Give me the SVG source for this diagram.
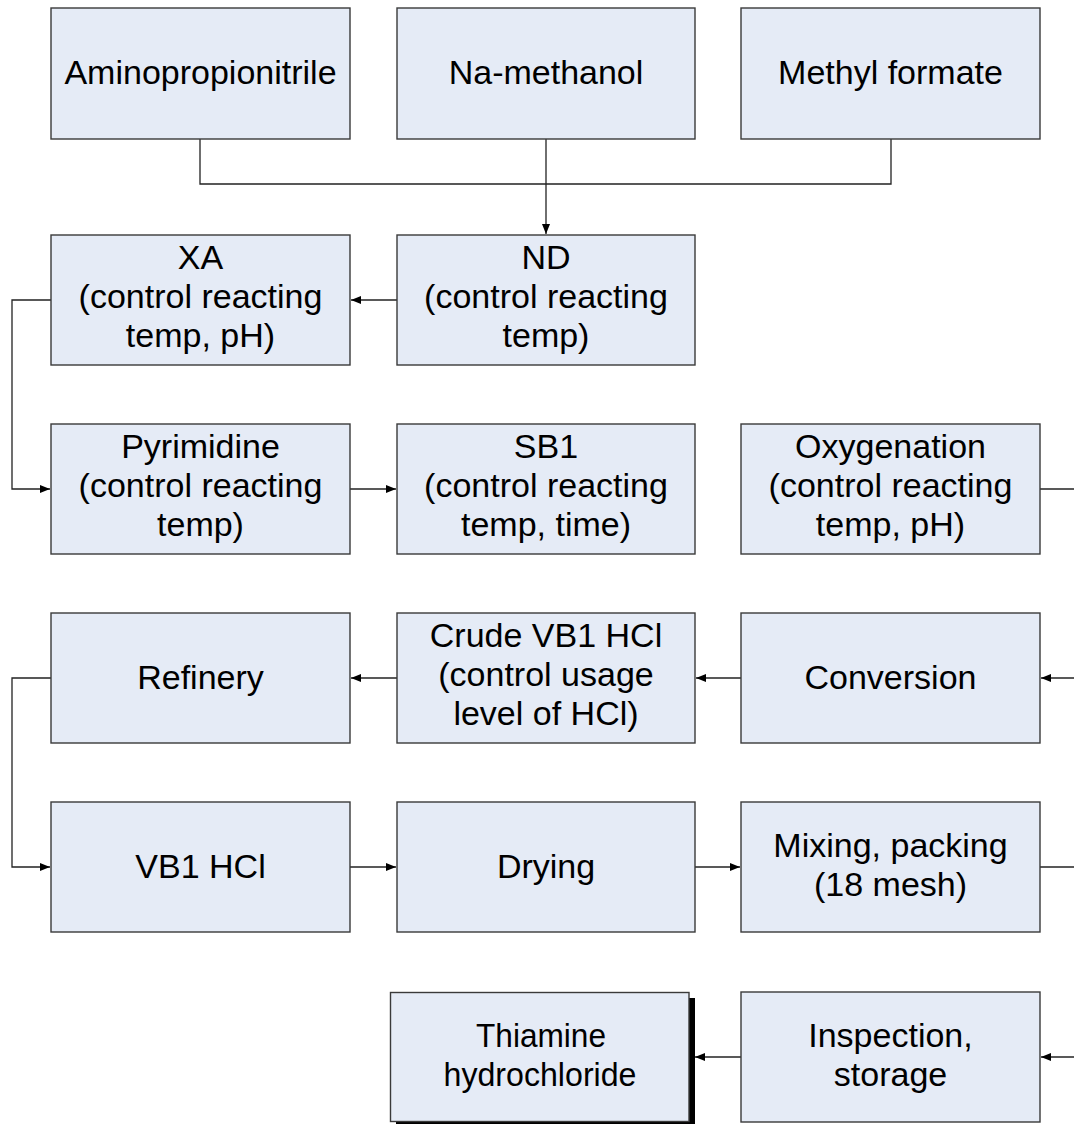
<svg xmlns="http://www.w3.org/2000/svg" width="1074" height="1124" viewBox="0 0 1074 1124">
<style>
.box{fill:#E5EBF6;stroke:#3a3a3a;stroke-width:1.4}
.shadow{fill:#000}
.t{font-family:"Liberation Sans",Arial,sans-serif;font-size:34px;fill:#000;text-anchor:middle}
.c{fill:none;stroke:#222;stroke-width:1.3}
</style>
<defs>
<marker id="ah" viewBox="0 0 10 8" refX="10" refY="4" markerWidth="10" markerHeight="8" markerUnits="userSpaceOnUse" orient="auto">
<path d="M0,0 L10,4 L0,8 Z" fill="#000"/>
</marker>
</defs>
<rect width="1074" height="1124" fill="#fff"/>

<g id="connectors">
<polyline class="c" points="200,139 200,184 891,184 891,139"/>
<line class="c" x1="546" y1="139" x2="546" y2="234" marker-end="url(#ah)"/>
<line class="c" x1="397" y1="300" x2="351" y2="300" marker-end="url(#ah)"/>
<polyline class="c" points="51,300 12,300 12,489 50,489" marker-end="url(#ah)"/>
<line class="c" x1="350" y1="489" x2="396" y2="489" marker-end="url(#ah)"/>
<line class="c" x1="1040" y1="489" x2="1074" y2="489"/>
<line class="c" x1="1074" y1="678" x2="1041" y2="678" marker-end="url(#ah)"/>
<line class="c" x1="741" y1="678" x2="696" y2="678" marker-end="url(#ah)"/>
<line class="c" x1="397" y1="678" x2="351" y2="678" marker-end="url(#ah)"/>
<polyline class="c" points="51,678 12,678 12,867 50,867" marker-end="url(#ah)"/>
<line class="c" x1="350" y1="867" x2="396" y2="867" marker-end="url(#ah)"/>
<line class="c" x1="695" y1="867" x2="740" y2="867" marker-end="url(#ah)"/>
<line class="c" x1="1040" y1="867" x2="1074" y2="867"/>
<line class="c" x1="1074" y1="1057" x2="1041" y2="1057" marker-end="url(#ah)"/>
<line class="c" x1="741" y1="1057" x2="695" y2="1057" marker-end="url(#ah)"/>
</g>

<g id="aminopropionitrile">
<rect class="box" x="51" y="8" width="299" height="131"/>
<text class="t" x="200.5" y="84">Aminopropionitrile</text>
</g>
<g id="na-methanol">
<rect class="box" x="397" y="8" width="298" height="131"/>
<text class="t" x="546" y="84">Na-methanol</text>
</g>
<g id="methyl-formate">
<rect class="box" x="741" y="8" width="299" height="131"/>
<text class="t" x="890.5" y="84">Methyl formate</text>
</g>

<g id="xa">
<rect class="box" x="51" y="235" width="299" height="130"/>
<text class="t" x="200.5" y="269">XA</text>
<text class="t" x="200.5" y="308">(control reacting</text>
<text class="t" x="200.5" y="347">temp, pH)</text>
</g>
<g id="nd">
<rect class="box" x="397" y="235" width="298" height="130"/>
<text class="t" x="546" y="269">ND</text>
<text class="t" x="546" y="308">(control reacting</text>
<text class="t" x="546" y="347">temp)</text>
</g>

<g id="pyrimidine">
<rect class="box" x="51" y="424" width="299" height="130"/>
<text class="t" x="200.5" y="458">Pyrimidine</text>
<text class="t" x="200.5" y="497">(control reacting</text>
<text class="t" x="200.5" y="536">temp)</text>
</g>
<g id="sb1">
<rect class="box" x="397" y="424" width="298" height="130"/>
<text class="t" x="546" y="458">SB1</text>
<text class="t" x="546" y="497">(control reacting</text>
<text class="t" x="546" y="536">temp, time)</text>
</g>
<g id="oxygenation">
<rect class="box" x="741" y="424" width="299" height="130"/>
<text class="t" x="890.5" y="458">Oxygenation</text>
<text class="t" x="890.5" y="497">(control reacting</text>
<text class="t" x="890.5" y="536">temp, pH)</text>
</g>

<g id="refinery">
<rect class="box" x="51" y="613" width="299" height="130"/>
<text class="t" x="200.5" y="688.5">Refinery</text>
</g>
<g id="crude-vb1-hcl">
<rect class="box" x="397" y="613" width="298" height="130"/>
<text class="t" x="546" y="647">Crude VB1 HCl</text>
<text class="t" x="546" y="686">(control usage</text>
<text class="t" x="546" y="725">level of HCl)</text>
</g>
<g id="conversion">
<rect class="box" x="741" y="613" width="299" height="130"/>
<text class="t" x="890.5" y="688.5">Conversion</text>
</g>

<g id="vb1-hcl">
<rect class="box" x="51" y="802" width="299" height="130"/>
<text class="t" x="200.5" y="877.5">VB1 HCl</text>
</g>
<g id="drying">
<rect class="box" x="397" y="802" width="298" height="130"/>
<text class="t" x="546" y="877.5">Drying</text>
</g>
<g id="mixing-packing">
<rect class="box" x="741" y="802" width="299" height="130"/>
<text class="t" x="890.5" y="857">Mixing, packing</text>
<text class="t" x="890.5" y="896">(18 mesh)</text>
</g>

<g id="thiamine-hydrochloride">
<rect class="shadow" x="396" y="998" width="299" height="130"/>
<rect class="box" x="390.5" y="992.5" width="298.5" height="129"/>
<text class="t" x="541" y="1047" textLength="130" lengthAdjust="spacingAndGlyphs">Thiamine</text>
<text class="t" x="540" y="1086" textLength="193" lengthAdjust="spacingAndGlyphs">hydrochloride</text>
</g>
<g id="inspection-storage">
<rect class="box" x="741" y="992" width="299" height="130"/>
<text class="t" x="890.5" y="1047">Inspection,</text>
<text class="t" x="890.5" y="1086">storage</text>
</g>
</svg>
